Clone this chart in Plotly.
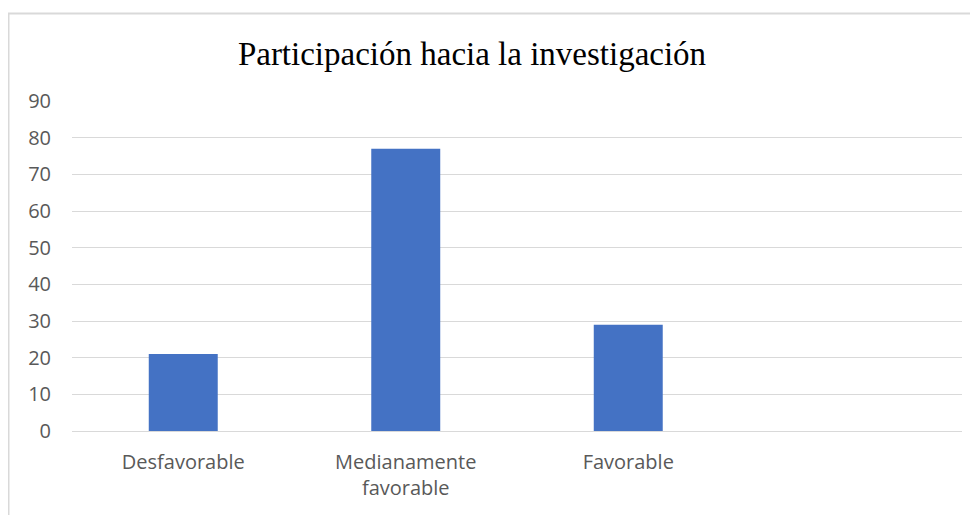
import plotly.graph_objects as go

categories = ["Desfavorable", "Medianamente<br>favorable", "Favorable"]
values = [21, 77, 29]
y_ticks = [0, 10, 20, 30, 40, 50, 60, 70, 80, 90]

# page has an 8px body margin; figure coordinates are page coords - 8
OFF = 8
W, H = 978 - OFF, 515 - OFF
L, T = 72 - OFF, 101 - OFF
R = W - (962 - OFF)
B = H - (431 - OFF)
pw, ph = W - L - R, H - T - B

fig = go.Figure(go.Bar(
    x=categories, y=values,
    marker=dict(color="#4472C4", line=dict(width=0)),
    width=0.31,
))

fig.update_layout(
    width=W, height=H,
    margin=dict(l=L, r=R, t=T, b=B),
    paper_bgcolor="white", plot_bgcolor="white",
    showlegend=False,
    title=dict(
        text="Participación hacia la investigación",
        font=dict(family="Liberation Serif", size=33, color="#000000"),
        x=(472 - OFF) / W, xref="container", xanchor="center",
        y=1 - (53 - OFF) / H, yref="container", yanchor="middle",
    ),
    font=dict(family="Open Sans", size=20, color="#595959"),
    shapes=[dict(
        type="rect", xref="paper", yref="paper",
        x0=(8.5 - 72) / pw, x1=(W + 40 - L) / pw,
        y0=-(H + 40) / ph, y1=(431 - 13.5) / ph,
        line=dict(color="#d9d9d9", width=2), fillcolor="rgba(0,0,0,0)",
        layer="below",
    )],
)

fig.update_xaxes(
    range=[-0.5, 3.5], showgrid=False, showline=False, zeroline=False,
    ticks="", ticklabelstandoff=17,
    tickfont=dict(family="Open Sans", size=20, color="#595959"),
)
fig.update_yaxes(
    range=[0, 90], tickvals=y_ticks, showgrid=True, gridcolor="#d9d9d9", gridwidth=1,
    zeroline=True, zerolinecolor="#d9d9d9", zerolinewidth=1, showline=False,
    ticks="", ticklabelstandoff=20,
    tickfont=dict(family="Open Sans", size=20, color="#595959"),
)

fig.write_html("out.html")
